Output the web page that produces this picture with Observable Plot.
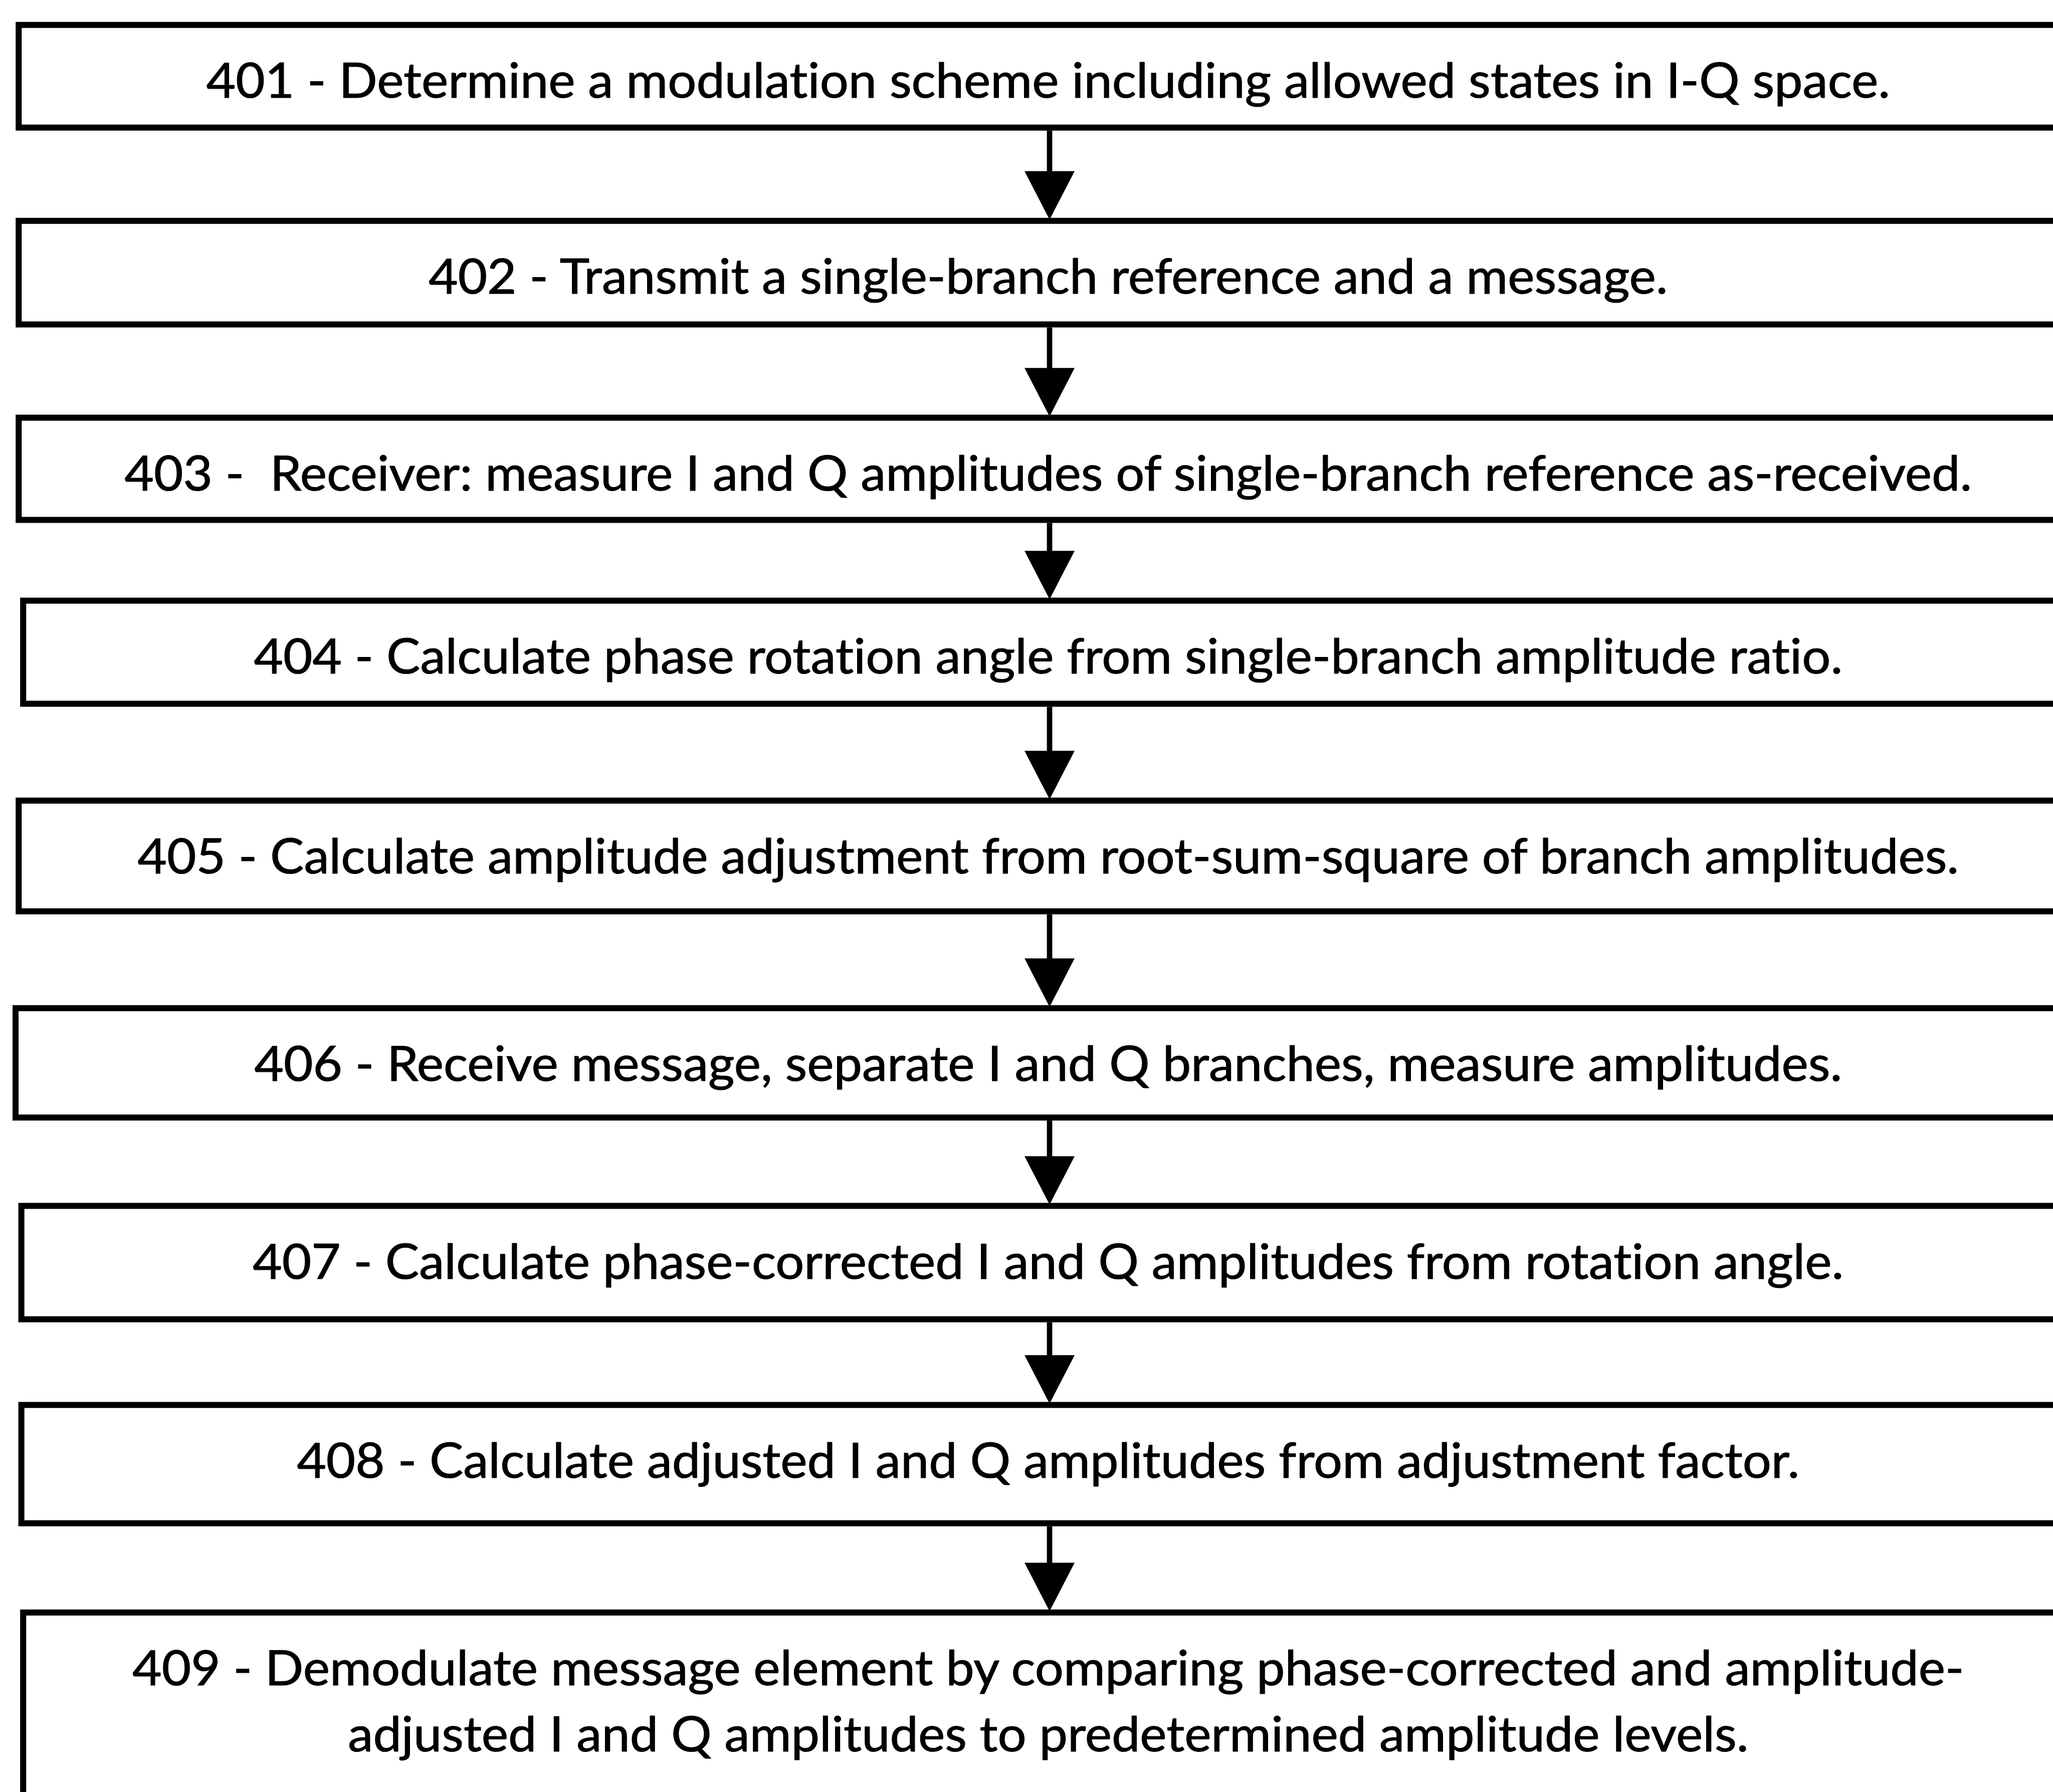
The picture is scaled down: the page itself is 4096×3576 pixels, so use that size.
<!DOCTYPE html>
<html>
<head>
<meta charset="utf-8">
<script src="https://cdn.jsdelivr.net/npm/d3@7"></script>
<script src="https://cdn.jsdelivr.net/npm/@observablehq/plot@0.6"></script>
<style>
  html, body { margin: 0; padding: 0; background: #fff; }
  #chart svg { display: block; }
  #chart text, #chart tspan {
    font-variant-ligatures: none;
    font-feature-settings: "liga" 0, "clig" 0, "dlig" 0;
  }
</style>
</head>
<body>
<div id="chart"></div>
<script>
// ---- data (in reference pixel units) ----
const steps = ["401", "402", "403", "404", "405", "406", "407", "408", "409"];
const labels = [
  "401 - Determine a modulation scheme including allowed states in I-Q space.",
  "402 - Transmit a single-branch reference and a message.",
  "403 -  Receiver: measure I and Q amplitudes of single-branch reference as-received.",
  "404 - Calculate phase rotation angle from single-branch amplitude ratio.",
  "405 - Calculate amplitude adjustment from root-sum-square of branch amplitudes.",
  "406 - Receive message, separate I and Q branches, measure amplitudes.",
  "407 - Calculate phase-corrected I and Q amplitudes from rotation angle.",
  "408 - Calculate adjusted I and Q amplitudes from adjustment factor.",
  "409 - Demodulate message element by comparing phase-corrected and amplitude-\nadjusted I and Q amplitudes to predetermined amplitude levels."
];
const boxTop    = [49, 487, 927, 1336, 1783, 2247, 2689, 3134, 3598];
const boxBottom = [292, 732, 1169, 1580, 2044, 2505, 2956, 3412, 4080];
const boxLeft   = [35, 35, 35, 45, 35, 28, 41, 41, 45];
const boxRight  = 4700;      // boxes run off the right edge
const flowX = 2345;          // centre line of the arrows
const textX = 2342;          // centre of the labels

// ---- geometry ----
const refW = 4588, refH = 4006;
const W = 4096, H = 3576;
const k = W / refW;                 // ~0.892
const sw = 13.5 * k;                // box stroke width
const stemW = 12 * k;               // arrow stem width
const headW = 112 * k, headH = 105 * k;
const headHRef = 105;
const fs = 96;                      // font size (Lato) matching cap height
const lineH = (148 * k) / fs;       // line height in em
const firstBaseline = 169 * k;      // from box top to first baseline
const targetLine1 = 3763 * k;       // width of first label in reference

const boxes = steps.map((s, i) => ({
  step: s, label: labels[i], top: boxTop[i], bottom: boxBottom[i], left: boxLeft[i]
}));
const arrows = d3.range(steps.length - 1).map(i => ({
  from: boxBottom[i], to: boxTop[i + 1]
}));

const downTriangle = {
  draw(ctx) {
    ctx.moveTo(0, 3);
    ctx.lineTo(-headW / 2, -headH);
    ctx.lineTo(headW / 2, -headH);
    ctx.closePath();
  }
};

const chart = Plot.plot({
  width: W,
  height: H,
  margin: 0,
  marginTop: 0, marginRight: 0, marginBottom: 0, marginLeft: 0,
  x: {domain: [0, refW], range: [0, W], axis: null},
  y: {domain: [0, refH], range: [0, H], axis: null},
  style: {background: "white"},
  marks: [
    Plot.rect(boxes, {
      x1: "left", x2: () => boxRight, y1: "top", y2: "bottom",
      fill: "white", stroke: "black", strokeWidth: sw, inset: sw / 2
    }),
    Plot.ruleX(arrows, {
      x: () => flowX, y1: "from", y2: d => d.to - headHRef + 3,
      stroke: "black", strokeWidth: stemW
    }),
    Plot.dot(arrows, {
      x: () => flowX, y: "to", r: 1, symbol: downTriangle,
      fill: "black", stroke: "none"
    }),
    Plot.text(boxes, {
      x: () => textX, y: "top", text: "label",
      textAnchor: "middle", lineAnchor: "top", lineHeight: lineH,
      dy: firstBaseline - 0.71 * lineH * fs,
      fontSize: fs, fontFamily: "Lato", fill: "black",
      stroke: "black", strokeWidth: 1.2
    })
  ]
});

document.getElementById("chart").append(chart);

// Condense the labels horizontally so their widths match the reference (Calibri is narrower than Lato)
function condense() {
  const texts = Array.from(chart.querySelectorAll('g[aria-label="text"] text'));
  if (!texts.length) return;
  texts.forEach(t => {
    if (t.dataset.base == null) t.dataset.base = t.getAttribute("transform") || "";
  });
  const len = texts[0].getComputedTextLength();
  if (!len) return;
  const r = targetLine1 / len;
  texts.forEach(t => {
    const base = t.dataset.base;
    if (base) t.setAttribute("transform", `${base} scale(${r},1)`);
    else {
      const x = +t.getAttribute("x") || 0, y = +t.getAttribute("y") || 0;
      t.setAttribute("transform", `translate(${x},${y}) scale(${r},1) translate(${-x},${-y})`);
    }
  });
}
condense();
if (document.fonts && document.fonts.ready) document.fonts.ready.then(condense);
</script>
</body>
</html>
